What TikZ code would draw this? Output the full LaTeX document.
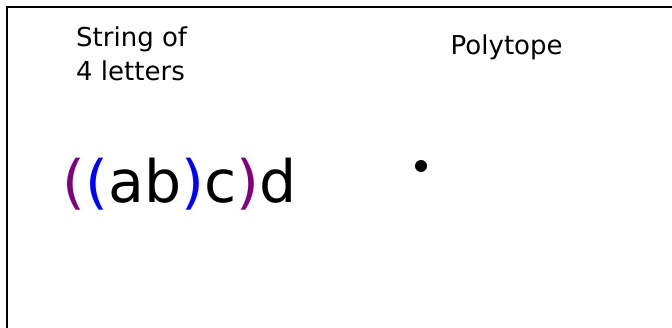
\documentclass[tikz,border=0pt]{standalone}
\usepackage{fontspec}
\setmainfont{DejaVu Sans}
\definecolor{pp}{RGB}{128,0,128}
\definecolor{bb}{RGB}{0,0,255}
\begin{document}
\begin{tikzpicture}[x=1pt,y=-1pt,
  lbl/.style={inner sep=0pt,anchor=base west,font=\fontsize{26}{30}\selectfont},
  big/.style={inner sep=0pt,anchor=base west,font=\fontsize{58.5}{64}\selectfont}]
\useasboundingbox (0,0) rectangle (672,328);
\clip (0,0) rectangle (672,328);
\draw[line width=1.5pt] (7,7) rectangle (720,380);
\node[lbl] (str1) at (76,47) {String of};
\node[lbl] (str2) at (76,81) {4 letters};
\node[lbl] (poly) at (450.5,55) {Polytope};
\node[big] (word) at (62.5,203) {\textcolor{pp}{(}\textcolor{bb}{(}ab\textcolor{bb}{)}c\textcolor{pp}{)}d};
\fill (421,166) circle (6);
\end{tikzpicture}
\end{document}
